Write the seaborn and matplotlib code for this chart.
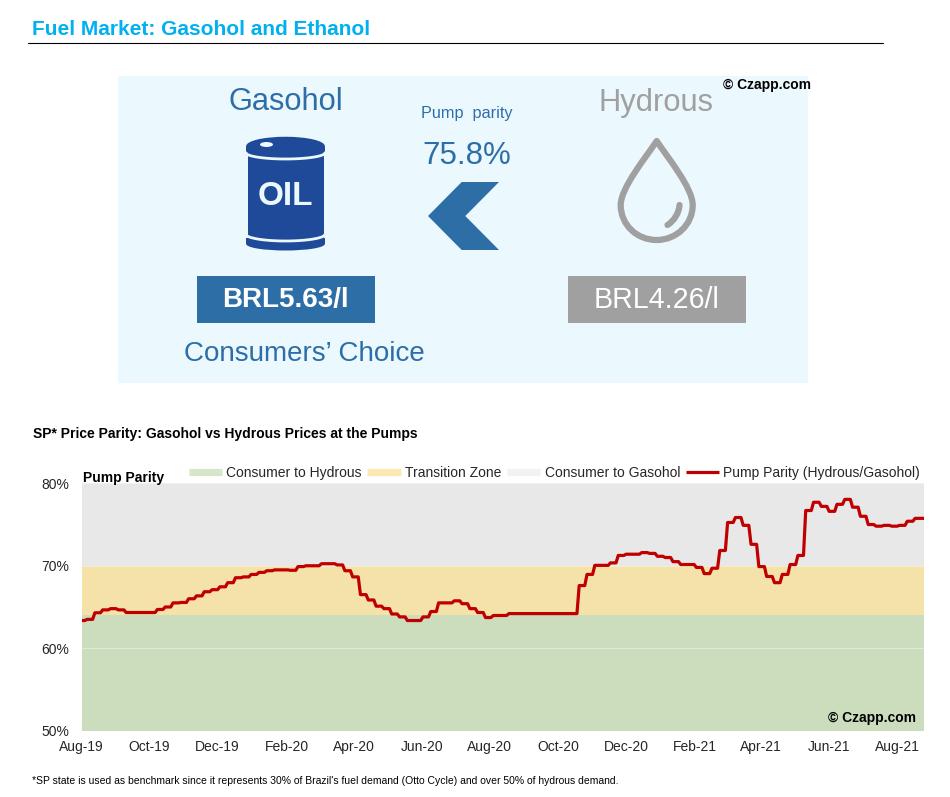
import numpy as np
import pandas as pd
import seaborn as sns
import matplotlib.pyplot as plt
import matplotlib.dates as mdates
from matplotlib.lines import Line2D
from matplotlib.patches import Ellipse, PathPatch, Polygon, Rectangle
from matplotlib.path import Path

sns.set_theme(style='white')
plt.rcParams['font.family'] = ['Liberation Sans', 'DejaVu Sans']

# weekly pump parity (hydrous/gasohol), %
first_week = '2019-07-30'
parity = [
    63.36, 63.5, 64.3, 64.65, 64.8, 64.65, 64.33, 64.33, 64.33, 64.33,
    64.7, 65.0, 65.5, 65.55, 66.0, 66.35, 66.85, 67.1, 67.45, 67.95,
    68.55, 68.65, 68.95, 69.2, 69.4, 69.5, 69.5, 69.45, 69.9, 70.0,
    70.0, 70.25, 70.25, 70.1, 69.4, 68.65, 66.5, 65.85, 65.1, 64.8,
    64.15, 63.8, 63.36, 63.36, 63.8, 64.45, 65.5, 65.5, 65.75, 65.4,
    64.8, 64.33, 63.72, 63.97, 63.97, 64.2, 64.2, 64.2, 64.2, 64.2,
    64.2, 64.2, 64.2, 64.2, 67.6, 68.95, 70.05, 70.05, 70.35, 71.25,
    71.4, 71.4, 71.6, 71.5, 71.15, 71.0, 70.5, 70.15, 70.15, 69.8,
    69.05, 69.7, 71.85, 75.25, 75.85, 74.9, 72.6, 69.9, 68.7, 67.95,
    68.95, 70.15, 71.25, 76.7, 77.7, 77.2, 76.6, 77.45, 78.05, 77.1,
    76.0, 75.0, 74.8, 74.9, 74.8, 74.9, 75.4, 75.75, 75.75,
]

# zones, % (bottom, top)
hydrous_zone = (50, 64)
transition_zone = (64, 70)
gasohol_zone = (70, 80)

y_ticks = [50, 60, 70, 80]
y_tick_labels = ['50%', '60%', '70%', '80%']

gasohol_price = 'BRL5.63/l'
hydrous_price = 'BRL4.26/l'
parity_label = '75.8%'

BLUE = '#2E6EA6'
GREY = '#A0A0A0'
PANEL = '#EBF9FF'
DARK = '#262626'

fig = plt.figure(figsize=(9.5, 7.97), dpi=100)

# canvas in pixels for the infographic part
bg = fig.add_axes([0, 0, 1, 1])
bg.set_xlim(0, 950)
bg.set_ylim(797, 0)
bg.axis('off')

bg.text(32, 29, 'Fuel Market: Gasohol and Ethanol', color='#00B0F0', fontsize=15,
        fontweight='bold', va='center')
bg.plot([28, 883], [42.5, 42.5], color='black', lw=0.8)
bg.add_patch(Rectangle((118, 76), 690, 307, color=PANEL, lw=0))

bg.text(285.5, 102, 'Gasohol', color=BLUE, fontsize=22.2, ha='center', va='center')
bg.text(656, 103, 'Hydrous', color=GREY, fontsize=22.2, ha='center', va='center')
bg.text(466.5, 113, 'Pump  parity', color=BLUE, fontsize=11.7, ha='center', va='center')
bg.text(466.5, 156, parity_label, color=BLUE, fontsize=22.5, ha='center', va='center')
bg.text(767, 84.5, '© Czapp.com', color='black', fontsize=10, fontweight='bold',
        ha='center', va='center')

# arrow
bg.add_patch(Polygon([(499, 182), (461.7, 182), (428, 216), (461.7, 250), (499, 250), (465.3, 216)],
                     closed=True, color=BLUE, lw=0))

# oil barrel
OIL = '#1F4A99'
bg.add_patch(Rectangle((247.5, 146), 76.5, 92, color=OIL, lw=0))
bg.add_patch(Rectangle((246.3, 146), 78.6, 7, color=OIL, lw=0))
bg.add_patch(Rectangle((246.3, 238), 78.6, 6, color=OIL, lw=0))
bg.add_patch(Ellipse((285.5, 146), 78.6, 18.5, color=OIL, lw=0))
bg.add_patch(Ellipse((285.5, 244), 78.6, 13, color=OIL, lw=0))
u = np.linspace(-1, 1, 40)
arc = np.sqrt(1 - u**2)
bg.plot(285.5 + 40 * u, 152.5 + 6.5 * arc, color=PANEL, lw=2)
bg.plot(285.5 + 40 * u, 234 + 7 * arc, color=PANEL, lw=2)
bg.add_patch(Ellipse((266.5, 144.5), 13, 5, color=PANEL, lw=0))
bg.text(285.5, 196, 'OIL', color=PANEL, fontsize=24, fontweight='bold', ha='center', va='center')

# hydrous drop
drop = Path([(656.7, 141), (668, 158), (692.7, 188), (692.7, 205), (692.7, 225), (676, 240),
             (656.7, 240), (637, 240), (620.7, 225), (620.7, 205), (620.7, 188), (645.4, 158),
             (656.7, 141), (656.7, 141)],
            [Path.MOVETO] + [Path.CURVE4] * 12 + [Path.CLOSEPOLY])
bg.add_patch(PathPatch(drop, fill=False, edgecolor=GREY, lw=4.5, joinstyle='round'))
shine = Path([(679.5, 205), (679, 213), (674, 221), (667.5, 225)],
             [Path.MOVETO, Path.CURVE4, Path.CURVE4, Path.CURVE4])
bg.add_patch(PathPatch(shine, fill=False, edgecolor=GREY, lw=4.5, capstyle='round'))

# price boxes
bg.add_patch(Rectangle((197, 276), 178, 47, color=BLUE, lw=0))
bg.add_patch(Rectangle((568, 276), 178, 47, color=GREY, lw=0))
bg.text(285, 300, gasohol_price, color='white', fontsize=20, fontweight='bold', ha='center', va='center')
bg.text(656.5, 300, hydrous_price, color='white', fontsize=20.6, ha='center', va='center')
bg.text(304, 354, 'Consumers’ Choice', color=BLUE, fontsize=20, ha='center', va='center')

bg.text(33, 434, 'SP* Price Parity: Gasohol vs Hydrous Prices at the Pumps', color='black',
        fontsize=10, fontweight='bold', va='center')
bg.text(32, 781, "*SP state is used as benchmark since it represents 30% of Brazil's fuel demand "
        "(Otto Cycle) and over 50% of hydrous demand.", color='black', fontsize=7.5, va='center')

# chart
ax = fig.add_axes([81.5 / 950, 1 - 730.7 / 797, (924 - 81.5) / 950, (730.7 - 483.3) / 797])
ax.axhspan(*hydrous_zone, color='#CBDDBD', lw=0)
ax.axhspan(*transition_zone, color='#F5E2A9', lw=0)
ax.axhspan(*gasohol_zone, color='#E8E8E8', lw=0)

# each week holds its price for five days, then moves on to the next one
weeks = pd.date_range(first_week, periods=len(parity), freq='7D')
df = pd.concat([pd.DataFrame({'date': weeks, 'parity': parity}),
                pd.DataFrame({'date': weeks + pd.Timedelta(days=5), 'parity': parity})])
df = df.sort_values('date')
sns.lineplot(data=df, x='date', y='parity', ax=ax, color='#C00000', lw=2.3, estimator=None,
             sort=False, zorder=5, legend=False)

ax.set_xlim(pd.Timestamp('2019-08-01'), pd.Timestamp('2021-08-25'))
ax.set_ylim(50, 80)
ax.set_yticks(y_ticks, y_tick_labels)
ax.xaxis.set_major_locator(mdates.MonthLocator(bymonth=[2, 4, 6, 8, 10, 12]))
ax.xaxis.set_major_formatter(mdates.DateFormatter('%b-%y'))
ax.tick_params(axis='both', length=0, labelsize=10, labelcolor=DARK)
ax.tick_params(axis='x', pad=7)
ax.tick_params(axis='y', pad=9)
ax.set_xlabel('')
ax.set_ylabel('')
ax.grid(axis='y', color='white', lw=0.8, alpha=0.4, zorder=2)
ax.set_axisbelow(False)
sns.despine(ax=ax, left=True, bottom=True)

fig.text(83 / 950, 1 - 478 / 797, 'Pump Parity', color='black', fontsize=10, fontweight='bold', va='center')
ax.text(0.9905, 0.052, '© Czapp.com', transform=ax.transAxes, color='black', fontsize=10,
        fontweight='bold', ha='right', va='center', zorder=6)

handles = [
    Line2D([], [], color='#D6E6C9', lw=5.2, solid_capstyle='butt'),
    Line2D([], [], color='#FBE8B3', lw=5.2, solid_capstyle='butt'),
    Line2D([], [], color='#F2F2F2', lw=5.2, solid_capstyle='butt'),
    Line2D([], [], color='#C00000', lw=2.3, solid_capstyle='butt'),
]
labels = ['Consumer to Hydrous', 'Transition Zone', 'Consumer to Gasohol', 'Pump Parity (Hydrous/Gasohol)']
leg = ax.legend(handles, labels, ncol=4, frameon=False, fontsize=10, handlelength=2.4,
                handletextpad=0.3, columnspacing=0.42, borderpad=0, borderaxespad=0,
                loc='lower right', bbox_to_anchor=(0.9955, 1.014))
for t in leg.get_texts():
    t.set_color(DARK)

fig.savefig('out.png', dpi=100)
